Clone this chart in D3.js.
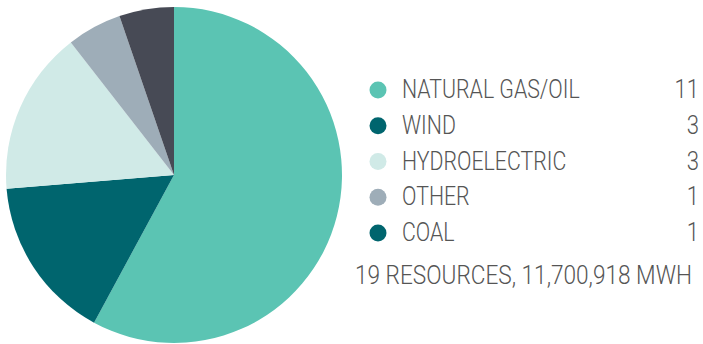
<!DOCTYPE html>
<html>
<head>
<meta charset="utf-8">
<script src="https://cdn.jsdelivr.net/npm/d3@7"></script>
<style>
  body { margin: 0; background: #fff; }
  svg text { font-family: Roboto, "Liberation Sans", sans-serif; font-weight: 300; fill: #555; }
</style>
</head>
<body>
<svg id="chart"></svg>
<script>
// chart data
const categories = ["NATURAL GAS/OIL", "WIND", "HYDROELECTRIC", "OTHER", "COAL"];
const counts = [11, 3, 3, 1, 1];
const footer = "19 RESOURCES, 11,700,918 MWH";

const sliceColors = ["#5bc4b3", "#00656e", "#d0eae7", "#9eadb8", "#474a55"];
const legendColors = ["#5bc4b3", "#00656e", "#d0eae7", "#9eadb8", "#00656e"];

const width = 703, height = 344;
const fontSize = 26;
const svg = d3.select("#chart").attr("width", width).attr("height", height);

const radius = 168;
const pieG = svg.append("g").attr("transform", "translate(174,175)");

const pie = d3.pie().sort(null).value(d => d);
const arc = d3.arc().innerRadius(0).outerRadius(radius);

pieG.selectAll("path")
  .data(pie(counts))
  .join("path")
  .attr("d", arc)
  .attr("fill", (d, i) => sliceColors[i]);

// legend
const rowY = d3.scalePoint().domain(categories).range([89, 232]);

const rows = svg.append("g").selectAll("g")
  .data(categories)
  .join("g")
  .attr("transform", d => `translate(0,${rowY(d)})`);

rows.append("circle")
  .attr("cx", 378).attr("cy", 1).attr("r", 8.5)
  .attr("fill", (d, i) => legendColors[i]);

// condensed look: squeeze text horizontally around its anchor
function label(sel, x, anchor, squeeze) {
  return sel.append("text")
    .attr("transform", `translate(${x},0) scale(${squeeze},1)`)
    .attr("dy", "0.355em")
    .attr("text-anchor", anchor)
    .attr("font-size", fontSize);
}

label(rows, 402, "start", 0.82).text(d => d);
label(rows, 699, "end", 0.85).text((d, i) => counts[i]);

const foot = svg.append("g").attr("transform", "translate(0,275)");
label(foot, 355, "start", 0.87).text(footer);
</script>
</body>
</html>
